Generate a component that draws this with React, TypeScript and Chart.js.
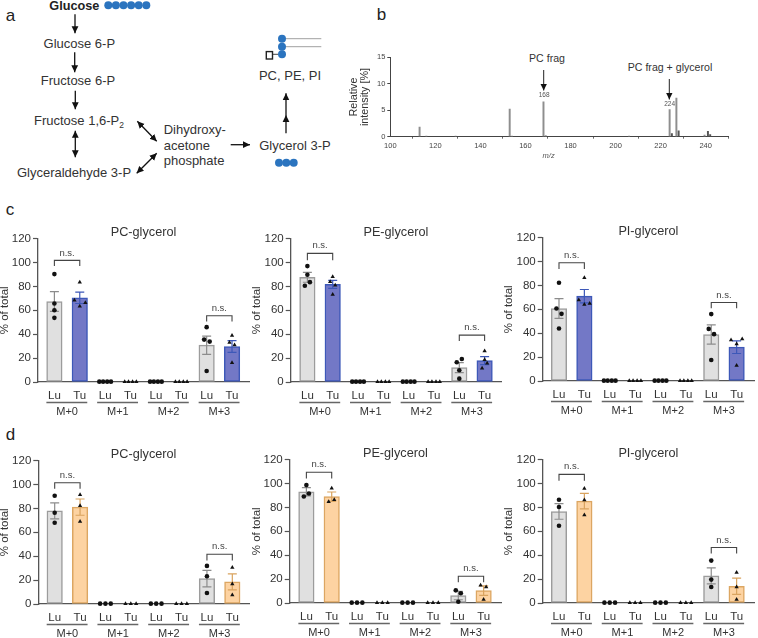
import React, { useEffect, useRef } from "react";
import { Chart, registerables } from "chart.js";

Chart.register(...registerables);

const FONT = '"Liberation Sans", Arial, sans-serif';
const INK = "#333333";

const barLabels = ["Lu", "Tu", "Lu", "Tu", "Lu", "Tu", "Lu", "Tu"];
const groupLabels = ["M+0", "M+1", "M+2", "M+3"];
const yTicks = [0, 20, 40, 60, 80, 100, 120];

// points are [bar index, horizontal jitter, value]
const luFlat4 = [[2, -0.23, 0.3], [2, -0.08, 0.3], [2, 0.08, 0.3], [2, 0.23, 0.3], [4, -0.23, 0.3], [4, -0.08, 0.3], [4, 0.08, 0.3], [4, 0.23, 0.3]];
const tuFlat4 = [[3, -0.23, 0.2], [3, -0.08, 0.2], [3, 0.08, 0.2], [3, 0.23, 0.2], [5, -0.23, 0.2], [5, -0.08, 0.2], [5, 0.08, 0.2], [5, 0.23, 0.2]];
const luFlat3 = [[2, -0.21, 0.3], [2, 0, 0.3], [2, 0.21, 0.3], [4, -0.21, 0.3], [4, 0, 0.3], [4, 0.21, 0.3]];
const tuFlat3 = [[3, -0.21, 0.2], [3, 0, 0.2], [3, 0.21, 0.2], [5, -0.21, 0.2], [5, 0, 0.2], [5, 0.21, 0.2]];

const cPcMeans = [67.4, 70.5, 0, 0, 0, 0, 30.8, 29.7];
const cPcSem = [8.2, 4.8, 0, 0, 0, 0, 7.6, 4.9];
const cPcLu = [[0, 0, 90.3], [0, 0, 65.7], [0, 0, 60], [0, 0, 53.7], [6, 0, 45.9], [6, -0.1, 35.5], [6, 0.12, 33.8], [6, 0, 9.2]];
const cPcTu = [[1, 0, 83.4], [1, -0.21, 68.5], [1, 0.22, 66.3], [1, 0, 63.5], [7, 0, 38.9], [7, -0.1, 33], [7, 0.1, 31], [7, 0, 16.2]];
const cPcBrackets = [[0, 1, 101.8, 97], [6, 7, 55.4, 50.6]];

const cPeMeans = [87.6, 81.7, 0, 0, 0, 0, 12, 17.9];
const cPeSem = [4.1, 3.4, 0, 0, 0, 0, 4.2, 3.4];
const cPeLu = [[0, 0, 97], [0, 0, 89.8], [0, 0.1, 83.6], [0, -0.1, 80.6], [6, 0.1, 19.3], [6, -0.1, 16.5], [6, 0, 9.8], [6, 0, 2.8]];
const cPeTu = [[1, 0, 88], [1, -0.1, 84], [1, 0.1, 81], [1, 0, 73.3], [7, 0, 26], [7, 0, 18.7], [7, 0.1, 15.7], [7, -0.1, 11.5]];
const cPeBrackets = [[0, 1, 107.7, 102], [6, 7, 39.2, 34.4]];

const cPiMeans = [60.7, 71, 0, 0, 0, 0, 38.9, 28.3];
const cPiSem = [8.3, 5.6, 0, 0, 0, 0, 8.1, 5.3];
const cPiLu = [[0, 0, 82.2], [0, -0.1, 60.7], [0, 0.1, 56.2], [0, 0, 43.9], [6, 0, 56], [6, -0.1, 43.6], [6, 0.11, 39.2], [6, 0, 17.6]];
const cPiTu = [[1, 0, 86.4], [1, -0.22, 67.7], [1, 0.21, 64.9], [1, 0, 64], [7, -0.22, 34.4], [7, 0.22, 35.2], [7, 0, 31], [7, 0, 12.9]];
const cPiBrackets = [[0, 1, 99, 93.7], [6, 7, 65.7, 61]];

const dPcMeans = [78, 81.1, 0, 0, 0, 0, 21.3, 18.5];
const dPcSem = [6.7, 6.8, 0, 0, 0, 0, 6.9, 6.7];
const dPcLu = [[0, 0, 90.6], [0, 0, 76.4], [0, 0, 68], [6, 0, 31.9], [6, 0, 23.2], [6, 0, 9.2]];
const dPcTu = [[1, 0, 91.5], [1, 0, 82.2], [1, 0, 69], [7, 0, 30.5], [7, 0, 16.8], [7, 0, 7.6]];
const dPcBrackets = [[0, 1, 101.5, 96.5], [6, 7, 41.7, 36.4]];

const dPeMeans = [93.1, 89, 0, 0, 0, 0, 6.2, 10.3];
const dPeSem = [3.4, 3.9, 0, 0, 0, 0, 3.5, 4];
const dPeLu = [[0, 0, 98.7], [0, 0.1, 91.7], [0, -0.1, 89.2], [6, -0.1, 10.6], [6, 0.1, 8.1], [6, 0, 1.1]];
const dPeTu = [[1, 0, 96], [1, 0.1, 86.4], [1, -0.12, 84.8], [7, -0.12, 14.8], [7, 0.1, 13.4], [7, 0, 3]];
const dPeBrackets = [[0, 1, 109.4, 104.3], [6, 7, 22.4, 17.3]];

const dPiMeans = [76.6, 85.3, 0, 0, 0, 0, 22.7, 14];
const dPiSem = [6.5, 6.5, 0, 0, 0, 0, 6.7, 6.8];
const dPiLu = [[0, 0, 86.4], [0, 0, 80.3], [0, 0, 64.6], [6, 0, 35.5], [6, 0, 19.6], [6, 0, 13.4]];
const dPiTu = [[1, 0, 95.9], [1, 0, 86.2], [1, 0, 73.6], [7, 0, 25.5], [7, 0, 13.4], [7, 0, 3]];
const dPiBrackets = [[0, 1, 107.7, 102.4], [6, 7, 46.4, 41.4]];

// panel b
const mzValues = [113, 116, 129, 153, 154, 168, 169, 206, 224, 225, 227, 228, 239.5, 241, 242];
const mzIntensity = [1.8, 0.1, 0.1, 5.2, 0.1, 6.6, 0.2, 0.1, 5.1, 0.6, 7.3, 1.1, 0.3, 1, 0.4];
const mzDark = [225, 228, 241, 242];
const mzTicks = [100, 120, 140, 160, 180, 200, 220, 240];
const intensityTicks = [0, 5, 10, 15];

const grayFill = "#e0e0e0";
const grayEdge = "#9c9c9c";
const blueTheme = { fill: "#7378c6", edge: "#3d58b8", err: "#3d58b8" };
const orangeTheme = { fill: "#fdd3a2", edge: "#dca662", err: "#d9a35e" };

const panels = [
  { title: "PC-glycerol", means: cPcMeans, sem: cPcSem, lu: cPcLu, tu: cPcTu, flatLu: luFlat4, flatTu: tuFlat4, brackets: cPcBrackets, theme: blueTheme, titleLeft: -2, axisX: 38, first: 54.7, last: 235.7, end: 253, y0: 381.7, y120: 238.7 },
  { title: "PE-glycerol", means: cPeMeans, sem: cPeSem, lu: cPeLu, tu: cPeTu, flatLu: luFlat4, flatTu: tuFlat4, brackets: cPeBrackets, theme: blueTheme, titleLeft: 250, axisX: 290.7, first: 307.7, last: 488.3, end: 505, y0: 381.7, y120: 238.7 },
  { title: "PI-glycerol", means: cPiMeans, sem: cPiSem, lu: cPiLu, tu: cPiTu, flatLu: luFlat4, flatTu: tuFlat4, brackets: cPiBrackets, theme: blueTheme, titleLeft: 502, axisX: 542.7, first: 559.3, last: 740.3, end: 758, y0: 381, y120: 238 },
  { title: "PC-glycerol", means: dPcMeans, sem: dPcSem, lu: dPcLu, tu: dPcTu, flatLu: luFlat3, flatTu: tuFlat3, brackets: dPcBrackets, theme: orangeTheme, titleLeft: -2, axisX: 38.3, first: 55, last: 236, end: 253, y0: 603.3, y120: 460.3 },
  { title: "PE-glycerol", means: dPeMeans, sem: dPeSem, lu: dPeLu, tu: dPeTu, flatLu: luFlat3, flatTu: tuFlat3, brackets: dPeBrackets, theme: orangeTheme, titleLeft: 250, axisX: 289.7, first: 306.7, last: 487.3, end: 505, y0: 602.7, y120: 459.7 },
  { title: "PI-glycerol", means: dPiMeans, sem: dPiSem, lu: dPiLu, tu: dPiTu, flatLu: luFlat3, flatTu: tuFlat3, brackets: dPiBrackets, theme: orangeTheme, titleLeft: 502, axisX: 542.7, first: 559.3, last: 740.3, end: 758, y0: 602.7, y120: 459.7 },
];

type Panel = (typeof panels)[number];

const TITLE_H = 13.6;
const XAXIS_H = 38;

function panelGeom(p: Panel) {
  const top = p.y120 - TITLE_H;
  const height = p.y0 - top + XAXIS_H;
  const width = p.end - p.titleLeft;
  return { top, height, width };
}

function makeBarChart(canvas: HTMLCanvasElement, p: Panel) {
  const spacing = (p.last - p.first) / 7;
  const annotations = {
    id: "annotations",
    afterDatasetDraw(chart: any, args: any) {
      if (args.index !== 0) return;
      const { ctx, scales } = chart;
      ctx.save();
      ctx.lineWidth = 1.2;
      p.means.forEach((m: number, i: number) => {
        const e = p.sem[i];
        if (!e) return;
        const x = scales.x.getPixelForValue(i);
        const hi = scales.y.getPixelForValue(m + e);
        const lo = scales.y.getPixelForValue(m - e);
        ctx.strokeStyle = i % 2 === 0 ? "#8c8c8c" : p.theme.err;
        ctx.beginPath();
        ctx.moveTo(x, hi); ctx.lineTo(x, lo);
        ctx.moveTo(x - 4.5, hi); ctx.lineTo(x + 4.5, hi);
        ctx.moveTo(x - 4.5, lo); ctx.lineTo(x + 4.5, lo);
        ctx.stroke();
      });
      ctx.restore();
    },
    afterDraw(chart: any) {
      const { ctx, scales, chartArea } = chart;
      ctx.save();
      ctx.fillStyle = INK;
      ctx.textAlign = "center";
      ctx.textBaseline = "middle";
      groupLabels.forEach((g, i) => {
        const a = scales.x.getPixelForValue(i * 2);
        const b = scales.x.getPixelForValue(i * 2 + 1);
        ctx.strokeStyle = "#666666";
        ctx.lineWidth = 1.3;
        ctx.beginPath();
        ctx.moveTo(a - 8, chartArea.bottom + 20.5);
        ctx.lineTo(b + 7.5, chartArea.bottom + 20.5);
        ctx.stroke();
        ctx.font = `11px ${FONT}`;
        ctx.fillText(g, (a + b) / 2, chartArea.bottom + 30);
      });
      p.brackets.forEach(([from, to, topV, legV]) => {
        const a = scales.x.getPixelForValue(from);
        const b = scales.x.getPixelForValue(to);
        const t = scales.y.getPixelForValue(topV);
        const l = scales.y.getPixelForValue(legV);
        ctx.strokeStyle = "#444444";
        ctx.lineWidth = 1.1;
        ctx.beginPath();
        ctx.moveTo(a, l); ctx.lineTo(a, t); ctx.lineTo(b, t); ctx.lineTo(b, l);
        ctx.stroke();
        ctx.font = `9.5px ${FONT}`;
        ctx.fillStyle = "#444444";
        ctx.fillText("n.s.", (a + b) / 2, t - 7.5);
      });
      ctx.restore();
    },
  };
  const toPts = (rows: number[][]) => rows.map(([i, j, v]) => ({ x: i + j, y: v }));
  return new Chart(canvas, {
    type: "bar",
    plugins: [annotations],
    data: {
      datasets: [
        {
          type: "bar",
          order: 2,
          data: p.means.map((m: number, i: number) => ({ x: i, y: m })),
          barThickness: 15.5,
          borderWidth: 1.5,
          borderSkipped: false,
          backgroundColor: p.means.map((_: number, i: number) => (i % 2 === 0 ? grayFill : p.theme.fill)),
          borderColor: p.means.map((_: number, i: number) => (i % 2 === 0 ? grayEdge : p.theme.edge)),
        },
        {
          type: "scatter",
          order: 1,
          clip: false,
          data: toPts([...p.lu, ...p.flatLu]),
          pointStyle: "circle",
          pointRadius: 2.3,
          pointBorderWidth: 0,
          backgroundColor: "#111111",
        },
        {
          type: "scatter",
          order: 1,
          clip: false,
          data: toPts([...p.tu, ...p.flatTu]),
          pointStyle: "triangle",
          pointRadius: 2.5,
          pointBorderWidth: 0,
          backgroundColor: "#111111",
        },
      ],
    } as any,
    options: {
      responsive: false,
      animation: false,
      layout: { padding: 0 },
      plugins: {
        legend: { display: false },
        tooltip: { enabled: false },
        title: {
          display: true,
          text: p.title,
          fullSize: false,
          color: INK,
          font: { family: FONT, size: 12.7, weight: "normal" },
          padding: { top: 0, bottom: -1.6 },
        },
      },
      scales: {
        x: {
          type: "linear",
          offset: false,
          min: -(p.first - p.axisX) / spacing,
          max: 7 + (p.end - p.last) / spacing,
          afterBuildTicks: (s: any) => { s.ticks = barLabels.map((_, i) => ({ value: i })); },
          afterFit: (s: any) => { s.height = XAXIS_H; },
          grid: { display: false, drawTicks: false },
          border: { color: "#555555", width: 1.3 },
          ticks: {
            autoSkip: false,
            maxRotation: 0,
            padding: 7,
            color: INK,
            font: { family: FONT, size: 11.5 },
            callback: (v: any) => barLabels[v],
          },
        },
        y: {
          min: 0,
          max: 120,
          afterBuildTicks: (s: any) => { s.ticks = yTicks.map((value) => ({ value })); },
          afterFit: (s: any) => { s.width = p.axisX - p.titleLeft; },
          grid: { display: true, drawOnChartArea: false, drawTicks: true, tickLength: 5, tickColor: "#555555", tickWidth: 1.2 },
          border: { color: "#555555", width: 1.3 },
          title: {
            display: true,
            text: "% of total",
            color: INK,
            font: { family: FONT, size: 11.5 },
            padding: 0,
          },
          ticks: { padding: 2, color: INK, font: { family: FONT, size: 11.5 } },
        },
      },
    } as any,
  });
}

const SPEC = { left: 349, top: 47, axisX: 390.3, end: 728.2, y0: 136.7, y15: 57.3, width: 380, height: 120 };

function makeSpectrum(canvas: HTMLCanvasElement) {
  const notes = {
    id: "notes",
    afterDraw(chart: any) {
      const { ctx, scales, chartArea } = chart;
      ctx.save();
      ctx.textAlign = "center";
      ctx.textBaseline = "middle";
      ctx.fillStyle = "#555555";
      ctx.font = `6.5px ${FONT}`;
      ctx.fillText("168", scales.x.getPixelForValue(168.3), scales.y.getPixelForValue(7.9));
      ctx.fillText("224", scales.x.getPixelForValue(224), scales.y.getPixelForValue(6.2));
      ctx.font = `italic 7.5px ${FONT}`;
      ctx.fillText("m/z", scales.x.getPixelForValue(170.3), chartArea.bottom + 19);
      ctx.restore();
    },
  };
  return new Chart(canvas, {
    type: "bar",
    plugins: [notes],
    data: {
      datasets: [
        {
          data: mzValues.map((x, i) => ({ x, y: mzIntensity[i] })),
          barThickness: 1.3,
          borderWidth: 0,
          backgroundColor: mzValues.map((x) => (mzDark.includes(x) ? "#555555" : "#8e8e8e")),
        },
      ],
    } as any,
    options: {
      responsive: false,
      animation: false,
      layout: { padding: { top: SPEC.y15 - SPEC.top, right: SPEC.left + SPEC.width - SPEC.end } },
      plugins: { legend: { display: false }, tooltip: { enabled: false }, title: { display: false } },
      scales: {
        x: {
          type: "linear",
          offset: false,
          min: 100,
          max: 250,
          afterBuildTicks: (s: any) => { s.ticks = mzTicks.map((value) => ({ value })); },
          afterFit: (s: any) => { s.height = SPEC.top + SPEC.height - SPEC.y0; },
          grid: { display: true, drawOnChartArea: false, drawTicks: true, tickLength: 2, tickColor: "#666666" },
          border: { color: "#444444", width: 1 },
          ticks: { autoSkip: false, maxRotation: 0, padding: 3, color: "#444444", font: { family: FONT, size: 7.5 } },
        },
        y: {
          min: 0,
          max: 15,
          afterBuildTicks: (s: any) => { s.ticks = intensityTicks.map((value) => ({ value })); },
          afterFit: (s: any) => { s.width = SPEC.axisX - SPEC.left; },
          grid: { display: true, drawOnChartArea: false, drawTicks: true, tickLength: 3, tickColor: "#444444" },
          border: { color: "#444444", width: 1 },
          title: {
            display: true,
            text: ["Relative", "intensity [%]"],
            color: INK,
            font: { family: FONT, size: 10.8, lineHeight: 1 },
            padding: 0,
          },
          ticks: { padding: 2, color: "#444444", font: { family: FONT, size: 7.5 } },
        },
      },
    } as any,
  });
}

const arrowSegments = [
  [75, 14.3, 75, 33.3],
  [74.7, 52.3, 74.7, 72.3],
  [75.3, 90.7, 75.3, 109.3],
  [230.7, 144.7, 250, 144.7],
  [286, 133.3, 286, 115],
  [286, 115, 286, 93.3],
];
const doubleArrowSegments = [
  [75.3, 130.7, 75.3, 157.3],
  [137.3, 121.3, 156.7, 141.3],
  [136.7, 173.3, 156.7, 153.3],
];
const glucoseDots = [108.3, 115.9, 123.5, 131.1, 138.7, 146.3];
const glycerolDots = [279, 286.3, 293.7];
const lipidDots = [38.7, 46.7, 54.3];
const DOT = "#2b74bf";

function Diagram() {
  const t = { fontFamily: FONT, fontSize: 13, fill: INK } as React.CSSProperties;
  const letter = { fontFamily: FONT, fontSize: 17, fill: "#222222" } as React.CSSProperties;
  return (
    <svg width={758} height={638} style={{ position: "absolute", left: 0, top: 0 }}>
      <defs>
        <marker id="head" markerUnits="userSpaceOnUse" markerWidth="8" markerHeight="8" refX="7" refY="4" orient="auto">
          <path d="M0,0.6 L7,4 L0,7.4 Z" fill="#111" />
        </marker>
        <marker id="tail" markerUnits="userSpaceOnUse" markerWidth="8" markerHeight="8" refX="1" refY="4" orient="auto">
          <path d="M8,0.6 L1,4 L8,7.4 Z" fill="#111" />
        </marker>
      </defs>
      <text x={10.5} y={20.5} style={letter} textAnchor="middle">a</text>
      <text x={381.5} y={20} style={letter} textAnchor="middle">b</text>
      <text x={10} y={215} style={letter} textAnchor="middle">c</text>
      <text x={10.5} y={440} style={letter} textAnchor="middle">d</text>

      <text x={74.3} y={10} textAnchor="middle" style={{ ...t, fontSize: 12.7, fontWeight: 700, fill: "#222" }}>Glucose</text>
      <text x={79.3} y={48.2} textAnchor="middle" style={t}>Glucose 6-P</text>
      <text x={78} y={84.6} textAnchor="middle" style={t}>Fructose 6-P</text>
      <text x={34} y={125} style={t}>Fructose 1,6-P<tspan fontSize={8.5} dy={3}>2</tspan></text>
      <text x={74} y={177.3} textAnchor="middle" style={t}>Glyceraldehyde 3-P</text>
      <text x={163.7} y={134} style={t}>Dihydroxy-</text>
      <text x={163.7} y={149.7} style={t}>acetone</text>
      <text x={163.7} y={165.4} style={t}>phosphate</text>
      <text x={295} y={150.3} textAnchor="middle" style={t}>Glycerol 3-P</text>
      <text x={290} y={80} textAnchor="middle" style={t}>PC, PE, PI</text>

      {arrowSegments.map(([x1, y1, x2, y2], i) => (
        <line key={i} x1={x1} y1={y1} x2={x2} y2={y2} stroke="#111" strokeWidth={1.3} markerEnd="url(#head)" />
      ))}
      {doubleArrowSegments.map(([x1, y1, x2, y2], i) => (
        <line key={i} x1={x1} y1={y1} x2={x2} y2={y2} stroke="#111" strokeWidth={1.3} markerEnd="url(#head)" markerStart="url(#tail)" />
      ))}

      {glucoseDots.map((x) => <circle key={x} cx={x} cy={5.3} r={4} fill={DOT} />)}
      {glycerolDots.map((x) => <circle key={x} cx={x} cy={162.7} r={4} fill={DOT} />)}
      <line x1={282} y1={38.7} x2={321.3} y2={38.7} stroke="#a0a0a0" strokeWidth={1} />
      <line x1={282} y1={46.7} x2={321.3} y2={46.7} stroke="#a0a0a0" strokeWidth={1} />
      <line x1={272} y1={54.3} x2={282} y2={54.3} stroke="#444" strokeWidth={1} />
      <rect x={266.3} y={51.6} width={6.2} height={7.4} fill="#fff" stroke="#222" strokeWidth={1.4} />
      {lipidDots.map((y) => <circle key={y} cx={282} cy={y} r={4} fill={DOT} />)}

      <text x={547} y={62} textAnchor="middle" style={{ ...t, fontSize: 10.6 }}>PC frag</text>
      <text x={670} y={70.5} textAnchor="middle" style={{ ...t, fontSize: 10.6 }}>PC frag + glycerol</text>
      <line x1={543.7} y1={70} x2={543.7} y2={90.5} stroke="#222" strokeWidth={1} markerEnd="url(#head)" />
      <line x1={669.3} y1={79} x2={669.3} y2={99.5} stroke="#222" strokeWidth={1} markerEnd="url(#head)" />
    </svg>
  );
}

function BarPanel({ panel }: { panel: Panel }) {
  const ref = useRef<HTMLCanvasElement>(null);
  const g = panelGeom(panel);
  useEffect(() => {
    const chart = makeBarChart(ref.current!, panel);
    return () => chart.destroy();
  }, [panel]);
  return (
    <canvas
      ref={ref}
      width={Math.round(g.width)}
      height={Math.round(g.height)}
      style={{ position: "absolute", left: panel.titleLeft, top: g.top, width: Math.round(g.width), height: Math.round(g.height) }}
    />
  );
}

function Spectrum() {
  const ref = useRef<HTMLCanvasElement>(null);
  useEffect(() => {
    const chart = makeSpectrum(ref.current!);
    return () => chart.destroy();
  }, []);
  return (
    <canvas
      ref={ref}
      width={SPEC.width}
      height={SPEC.height}
      style={{ position: "absolute", left: SPEC.left, top: SPEC.top, width: SPEC.width, height: SPEC.height }}
    />
  );
}

export default function App() {
  return (
    <div style={{ position: "absolute", left: 0, top: 0, width: 758, height: 638, overflow: "hidden", background: "#fff" }}>
      <Diagram />
      <Spectrum />
      {panels.map((p, i) => <BarPanel key={i} panel={p} />)}
    </div>
  );
}
